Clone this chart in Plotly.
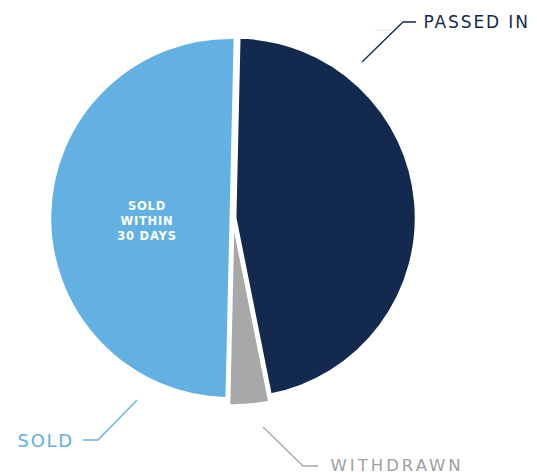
import plotly.graph_objects as go

categories = ["PASSED IN", "WITHDRAWN", "SOLD"]
values = [46.5, 3.5, 50]
colors = ["#132a4e", "#a8a8a8", "#63b1e3"]
inner_label = "SOLD<br>WITHIN<br>30 DAYS"

W, H = 537, 475


def px(x):
    return x / W


def py(y):
    return 1 - y / H


cx, cy, size = 233, 218, 374
fig = go.Figure(go.Pie(
    labels=categories,
    values=values,
    sort=False,
    direction="clockwise",
    rotation=1.3,
    pull=[0.015, 0.04, 0.015],
    marker=dict(colors=colors, line=dict(color="white", width=1.5)),
    textinfo="none",
    hoverinfo="label+percent",
    showlegend=False,
    domain=dict(x=[px(cx - size / 2), px(cx + size / 2)],
                y=[py(cy + size / 2), py(cy - size / 2)]),
))

font_family = "DejaVu Sans, sans-serif"
ann = []
shapes = []

def leader(points, color):
    path = "M " + " L ".join(f"{px(x)} {py(y)}" for x, y in points)
    shapes.append(dict(type="path", xref="paper", yref="paper", path=path,
                       line=dict(color=color, width=1.3)))

# PASSED IN
leader([(362, 62), (403, 22), (416, 22)], colors[0])
shapes.append(dict(type="line", xref="paper", yref="paper",
                   x0=px(375), x1=px(393), y0=py(30), y1=py(30),
                   line=dict(color="#e6e6e6", width=1)))
ann.append(dict(x=px(476), y=py(22), xref="paper", yref="paper",
                text=categories[0], showarrow=False, xanchor="center",
                yanchor="middle",
                font=dict(family=font_family, size=17, color=colors[0])))
# WITHDRAWN
leader([(263, 427), (303, 466), (318, 466)], colors[1])
ann.append(dict(x=px(397), y=py(465), xref="paper", yref="paper",
                text=categories[1], showarrow=False, xanchor="center",
                yanchor="middle",
                font=dict(family=font_family, size=16.5, color="#a0a0a0")))
# SOLD
leader([(137, 400), (98, 440), (83, 440)], colors[2])
ann.append(dict(x=px(45), y=py(440), xref="paper", yref="paper",
                text=categories[2], showarrow=False, xanchor="center",
                yanchor="middle",
                font=dict(family=font_family, size=18, color=colors[2])))
# inner text
ann.append(dict(x=px(146.5), y=py(221), xref="paper", yref="paper",
                text=inner_label, showarrow=False, xanchor="center",
                yanchor="middle", align="center",
                font=dict(family=font_family, size=11.5, color="white",
                          weight=600)))

fig.update_layout(
    width=W, height=H,
    margin=dict(l=0, r=0, t=0, b=0),
    paper_bgcolor="white",
    plot_bgcolor="white",
    annotations=ann,
    shapes=shapes,
)

post = """
document.body.style.margin = '0';
var gd = document.getElementById('{plot_id}');
function spacing() {
  var sp = [1.9, 3.0, 1.7, 0.8];
  gd.querySelectorAll('.annotation-text').forEach(function (e, i) {
    e.style.letterSpacing = (sp[i] || 0) + 'px';
  });
}
spacing();
gd.on('plotly_afterplot', spacing);
"""

fig.write_html("out.html", post_script=post,
               config={"displayModeBar": False})
